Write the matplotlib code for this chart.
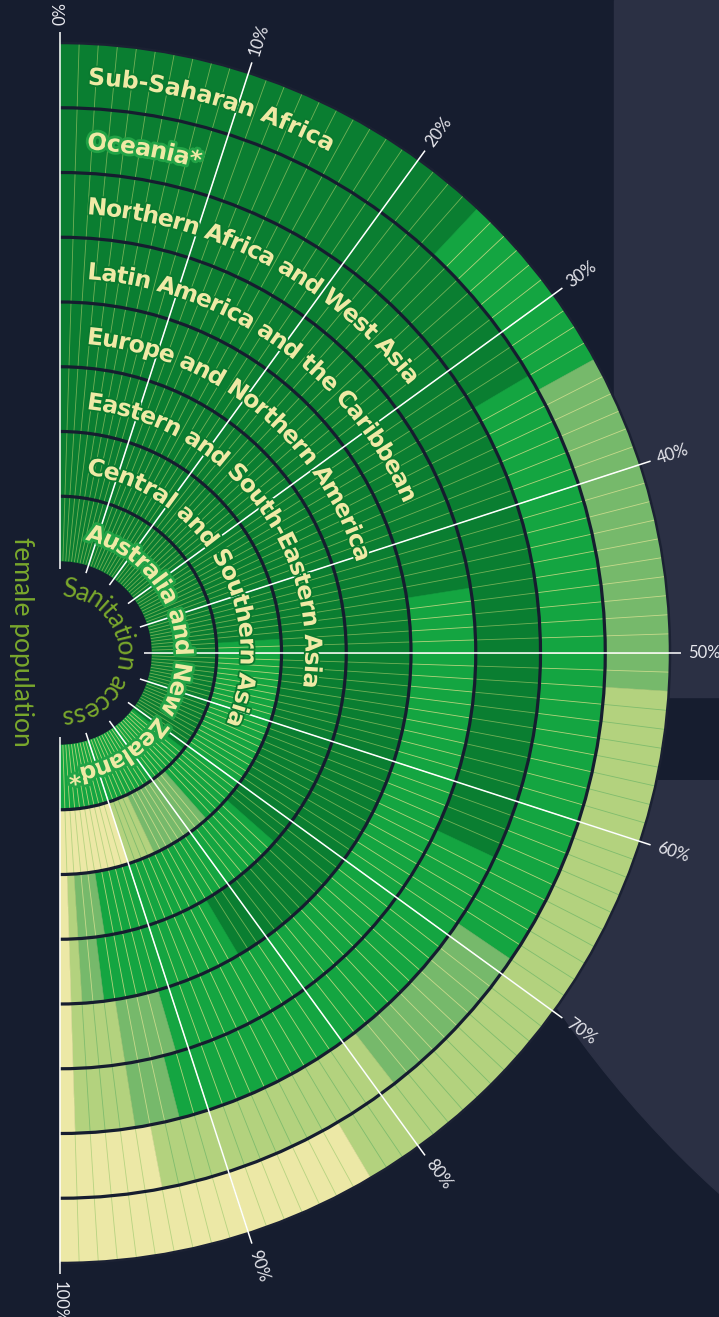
import numpy as np
import matplotlib
matplotlib.use("Agg")
import matplotlib.pyplot as plt
from matplotlib.patches import Wedge, Rectangle, Circle, Arc
from matplotlib.collections import LineCollection
from matplotlib.font_manager import FontProperties, findfont
from matplotlib.ft2font import FT2Font
import matplotlib.patheffects as pe

# share of the female population (in %) by sanitation service level, outer ring first
regions = ['Sub-Saharan Africa', 'Oceania*', 'Northern Africa and West Asia',
           'Latin America and the Caribbean', 'Europe and Northern America',
           'Eastern and South-Eastern Asia', 'Central and Southern Asia',
           'Australia and New Zealand*']

ssa_runs = [('safe', 24), ('basic', 10), ('limited', 18), ('unimproved', 31), ('open', 17)]
oce_runs = [('safe', 33), ('basic', 36), ('limited', 10), ('unimproved', 15), ('open', 6)]
nawa_runs = [('safe', 64), ('basic', 28), ('limited', 3), ('unimproved', 4), ('open', 1)]
lac_runs = [('safe', 45), ('basic', 46), ('limited', 4), ('unimproved', 4), ('open', 1)]
ena_runs = [('safe', 83), ('basic', 13), ('limited', 2), ('unimproved', 1), ('open', 1)]
esea_runs = [('safe', 73), ('basic', 22), ('limited', 3), ('unimproved', 1), ('open', 1)]
csa_runs = [('safe', 48), ('basic', 29), ('limited', 9), ('unimproved', 4), ('open', 10)]
anz_runs = [('safe', 71), ('basic', 29)]

all_runs = [ssa_runs, oce_runs, nawa_runs, lac_runs, ena_runs, esea_runs, csa_runs, anz_runs]

tick_pcts = [0, 10, 20, 30, 40, 50, 60, 70, 80, 90, 100]
tick_labels = ['%d%%' % p for p in tick_pcts]

#######################################################################################################################

fill = {'safe': '#0a7e31', 'basic': '#14a541', 'limited': '#76b96b',
        'unimproved': '#b3d27e', 'open': '#ece8a6'}
divider = {'safe': '#72b057', 'basic': '#b4d37c', 'limited': '#c7da8b',
           'unimproved': '#7fbc6d', 'open': '#b6d381'}

BG = '#161d2f'
PANEL = '#2b3044'
CREAM = '#efe9a5'
OLIVE = '#7aa82c'

CX, CY = 60, 653
R_IN, R_OUT = 92, 610
RW = (R_OUT - R_IN) / 8.0

W, H = 719, 1317
fig = plt.figure(figsize=(W / 100, H / 100), dpi=100, facecolor=BG)
ax = fig.add_axes([0, 0, 1, 1])
ax.set_xlim(0, W)
ax.set_ylim(H, 0)
ax.set_facecolor(BG)
ax.axis('off')


def pt(r, theta):
    t = np.radians(theta)
    return CX + r * np.sin(t), CY - r * np.cos(t)


# background panels
ax.add_patch(Rectangle((614, 0), W - 614, 697, color=PANEL, zorder=0))
big = Circle((1404, 432), 1024, color=PANEL, zorder=0)
ax.add_patch(big)
big.set_clip_path(Rectangle((0, 780), W, H - 780, transform=ax.transData))

# rings of 1% slices
for i, runs in enumerate(all_runs):
    r_o = R_OUT - i * RW
    r_i = r_o - RW
    cats = []
    for cat, n in runs:
        cats += [cat] * n
    start = 0
    for cat, n in runs:
        ax.add_patch(Wedge((CX, CY), r_o, start * 1.8 - 90, (start + n) * 1.8 - 90, width=RW,
                           facecolor=fill[cat], edgecolor=fill[cat], lw=0.4, zorder=2))
        start += n
    segs = []; cols = []
    for k in range(1, len(cats)):
        if cats[k] == cats[k - 1]:
            segs.append([pt(r_i, k * 1.8), pt(r_o, k * 1.8)])
            cols.append(divider[cats[k]])
    ax.add_collection(LineCollection(segs, colors=cols, linewidths=0.6, zorder=3))

# ring separators and outer edge
for i in range(1, 8):
    r = R_OUT - i * RW
    ax.add_patch(Arc((CX, CY), 2 * r, 2 * r, theta1=-90, theta2=90, color=BG, lw=2.3, zorder=4))
ax.add_patch(Arc((CX, CY), 2 * R_OUT, 2 * R_OUT, theta1=-90, theta2=90, color='#1b2133', lw=1.8, zorder=4))

# percentage ticks
for p, lab in zip(tick_pcts, tick_labels):
    th = p * 1.8
    x0, y0 = pt(84, th)
    x1, y1 = pt(621, th)
    ax.plot([x0, x1], [y0, y1], color='white', lw=1.1, zorder=5, solid_capstyle='butt')
    xt, yt = pt(628, th)
    ax.text(xt, yt, lab, rotation=90 - th, rotation_mode='anchor', ha='left', va='center',
            fontsize=12, family='Lato', color='#e8e8ee', zorder=6)


def curved_text(s, r_mid, a0, a1, size, color, weight='bold', family='DejaVu Sans', stroke=None, sw=3):
    prop = FontProperties(family=family, weight=weight, size=size)
    font = FT2Font(findfont(prop))
    font.set_size(size, 100)
    adv = np.array([font.load_char(ord(c)).horiAdvance / 64.0 for c in s])
    centers = np.cumsum(adv) - adv / 2
    scale = np.radians(a1 - a0) * r_mid / adv.sum()
    r_base = r_mid - 0.36 * size * 100 / 72
    effects = [pe.withStroke(linewidth=sw, foreground=stroke)] if stroke else None
    for c, cpos in zip(s, centers):
        if c == ' ':
            continue
        ang = a0 + np.degrees(cpos * scale / r_mid)
        x, y = pt(r_base, ang)
        ax.text(x, y, c, rotation=-ang, rotation_mode='anchor', ha='center', va='baseline',
                fontproperties=prop, color=color, zorder=7, path_effects=effects)


label_spans = [(2.8, 28.3), (3.1, 16.0), (3.6, 52.5), (4.2, 66.5),
               (5.0, 73.0), (6.3, 98.0), (8.5, 113.0), (12.9, 176.0)]
for i, (name, (a0, a1)) in enumerate(zip(regions, label_spans)):
    r_mid = R_OUT - (i + 0.5) * RW
    if name.endswith('*'):
        curved_text(name, r_mid, a0, a1, 17, CREAM, stroke='#22a346', sw=4)
    else:
        curved_text(name, r_mid, a0, a1, 17, CREAM, stroke='#0a7a2f', sw=2.5)

curved_text('Sanitation access', 66, 2.0, 178.0, 19, OLIVE, weight='normal', family='Lato')
ax.text(21, 642, 'female population', rotation=-90, ha='center', va='center',
        fontsize=19, family='Lato', weight='normal', color=OLIVE)

fig.savefig('out.png', dpi=100, facecolor=BG)
